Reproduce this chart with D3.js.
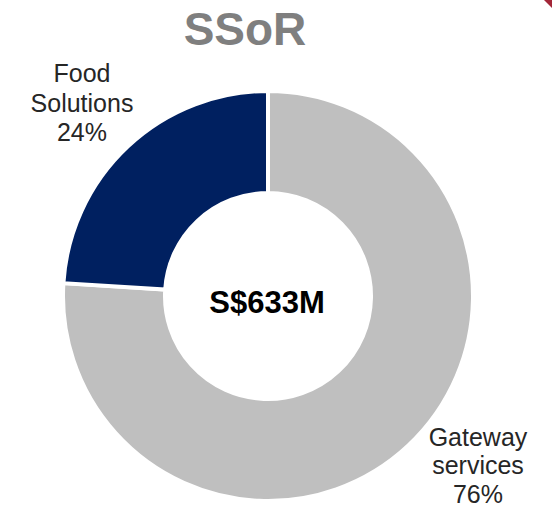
<!DOCTYPE html>
<html>
<head>
<meta charset="utf-8">
<script src="https://cdn.jsdelivr.net/npm/d3@7/dist/d3.min.js"></script>
<style>
  html, body { margin: 0; padding: 0; background: #ffffff; }
  svg { display: block; }
  text { font-family: "Liberation Sans", Arial, sans-serif; }
</style>
</head>
<body>
<svg id="chart" width="552" height="509"></svg>
<script>
// Revenue split by segment (percent of total)
const segments = ["Gateway services", "Food Solutions"];
const shares = [76, 24];
const segmentColors = ["#BFBFBF", "#002060"];
const labelLines = [["Gateway", "services", "76%"], ["Food", "Solutions", "24%"]];
const chartTitle = "SSoR";
const totalLabel = "S$633M";

const svg = d3.select("#chart");
const cx = 268, cy = 296;
const outerR = 205, innerR = 103;

// corner accent
svg.append("path")
  .attr("d", "M544,0 L552,0 L552,8 Z")
  .attr("fill", "#A32638");

// title
svg.append("text")
  .attr("x", 245).attr("y", 45)
  .attr("text-anchor", "middle")
  .attr("font-size", 46).attr("font-weight", "bold")
  .attr("fill", "#7F7F7F")
  .text(chartTitle);

const data = segments.map((s, i) => ({ name: s, value: shares[i], color: segmentColors[i], lines: labelLines[i] }));

const pie = d3.pie().sort(null).value(d => d.value);
const arc = d3.arc().innerRadius(innerR).outerRadius(outerR);

const g = svg.append("g").attr("transform", `translate(${cx},${cy})`);
g.selectAll("path.slice")
  .data(pie(data))
  .join("path")
  .attr("class", "slice")
  .attr("d", arc)
  .attr("fill", d => d.data.color)
  .attr("stroke", "#ffffff")
  .attr("stroke-width", 4);

// centre total
svg.append("text")
  .attr("x", cx - 1).attr("y", 313)
  .attr("text-anchor", "middle")
  .attr("font-size", 31).attr("font-weight", "bold")
  .attr("fill", "#000000")
  .text(totalLabel);

// segment labels placed outside the ring
const labelPos = [
  { x: 478, y: 446, lh: 28.3 },
  { x: 82, y: 82, lh: 29.7 }
];
data.forEach((d, i) => {
  const p = labelPos[i];
  const t = svg.append("text")
    .attr("text-anchor", "middle")
    .attr("font-size", 25)
    .attr("fill", "#262626");
  d.lines.forEach((ln, j) => {
    t.append("tspan").attr("x", p.x).attr("y", p.y + j * p.lh).text(ln);
  });
});
</script>
</body>
</html>
